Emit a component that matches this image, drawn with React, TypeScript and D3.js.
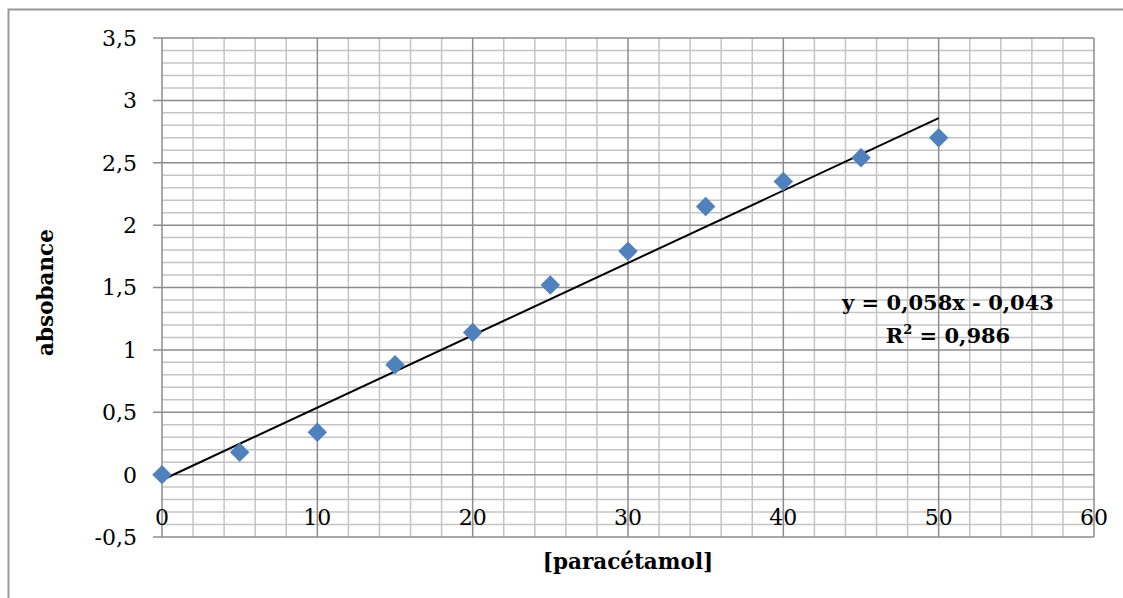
import React, { useEffect, useRef } from 'react';
import * as d3 from 'd3';

// data
const concentrations = [0, 5, 10, 15, 20, 25, 30, 35, 40, 45, 50];
const absorbances = [0.0, 0.18, 0.34, 0.88, 1.14, 1.52, 1.79, 2.15, 2.35, 2.54, 2.7];
const xTicks = [0, 10, 20, 30, 40, 50, 60];
const yTicks = [-0.5, 0, 0.5, 1, 1.5, 2, 2.5, 3, 3.5];
const slope = 0.058;
const intercept = -0.043;
const equationLabel = 'y = 0,058x - 0,043';
const r2Value = '0,986';

const fmt = (d: number) => String(d).replace('.', ',');

const App = () => {
    const ref = useRef<SVGSVGElement>(null);

    useEffect(() => {
        const svg = d3.select(ref.current);
        svg.selectAll('*').remove();

        const left = 162, right = 1094, top = 38, bottom = 537;
        const x = d3.scaleLinear().domain([0, 60]).range([left, right]);
        const y = d3.scaleLinear().domain([-0.5, 3.5]).range([bottom, top]);

        // outer chart frame (only top and left edges are visible)
        svg.append('rect')
            .attr('x', 8.5).attr('y', 9.5)
            .attr('width', 1300).attr('height', 800)
            .attr('fill', 'white')
            .attr('stroke', '#999').attr('stroke-width', 2);

        const grid = svg.append('g');

        // minor gridlines
        d3.range(0, 60.01, 2).forEach(v => {
            if (v % 10 === 0) return;
            grid.append('line')
                .attr('x1', x(v)).attr('x2', x(v))
                .attr('y1', top).attr('y2', bottom)
                .attr('stroke', '#c4c4c4').attr('stroke-width', 1.5);
        });
        d3.range(-5, 36).forEach(k => {
            if (k % 5 === 0) return;
            grid.append('line')
                .attr('x1', left).attr('x2', right)
                .attr('y1', y(k / 10)).attr('y2', y(k / 10))
                .attr('stroke', '#c4c4c4').attr('stroke-width', 1.5);
        });

        // major gridlines
        xTicks.forEach(v => {
            grid.append('line')
                .attr('x1', x(v)).attr('x2', x(v))
                .attr('y1', top).attr('y2', bottom)
                .attr('stroke', '#8c8c8c').attr('stroke-width', 1.5);
        });
        yTicks.forEach(v => {
            grid.append('line')
                .attr('x1', left - 9).attr('x2', right)
                .attr('y1', y(v)).attr('y2', y(v))
                .attr('stroke', '#8c8c8c').attr('stroke-width', 1.5);
        });

        // y tick labels
        svg.append('g').selectAll('text')
            .data(yTicks)
            .join('text')
            .attr('x', 137)
            .attr('y', d => y(d))
            .attr('dy', '0.36em')
            .attr('text-anchor', 'end')
            .style('font-family', 'DejaVu Serif')
            .style('font-size', '22px')
            .text(d => fmt(d));

        // x tick labels
        svg.append('g').selectAll('text')
            .data(xTicks)
            .join('text')
            .attr('x', d => x(d))
            .attr('y', 525)
            .attr('text-anchor', 'middle')
            .style('font-family', 'DejaVu Serif')
            .style('font-size', '22px')
            .text(d => fmt(d));

        // trendline
        svg.append('line')
            .attr('x1', x(0)).attr('y1', y(intercept))
            .attr('x2', x(50)).attr('y2', y(slope * 50 + intercept))
            .attr('stroke', 'black').attr('stroke-width', 2);

        // points
        const diamond = d3.symbol().type(d3.symbolSquare).size(190);
        svg.append('g').selectAll('path')
            .data(concentrations)
            .join('path')
            .attr('d', diamond)
            .attr('transform', (d, i) => `translate(${x(d)},${y(absorbances[i])}) rotate(45)`)
            .attr('fill', '#4f81bd');

        // equation label
        const eq = svg.append('text')
            .attr('text-anchor', 'middle')
            .style('font-family', 'DejaVu Serif')
            .style('font-size', '21px')
            .style('font-weight', 'bold');
        eq.append('tspan').attr('x', 948).attr('y', 310).text(equationLabel);
        const r2 = eq.append('tspan').attr('x', 948).attr('y', 343);
        r2.append('tspan').text('R');
        r2.append('tspan').attr('dy', -9).style('font-size', '13px').text('2');
        r2.append('tspan').attr('dy', 9).text(' = ' + r2Value);

        // axis titles
        svg.append('text')
            .attr('x', 628)
            .attr('y', 569)
            .attr('text-anchor', 'middle')
            .style('font-family', 'DejaVu Serif')
            .style('font-size', '21.5px')
            .style('font-weight', 'bold')
            .text('[paracétamol]');

        svg.append('text')
            .attr('transform', `translate(53,${(top + bottom) / 2 + 5}) rotate(-90)`)
            .attr('text-anchor', 'middle')
            .style('font-family', 'DejaVu Serif')
            .style('font-size', '21.5px')
            .style('font-weight', 'bold')
            .text('absobance');
    }, []);

    return (
        <svg ref={ref} width={1123} height={598}
            style={{ position: 'absolute', left: 0, top: 0, background: 'white' }} />
    );
};

export default App;
